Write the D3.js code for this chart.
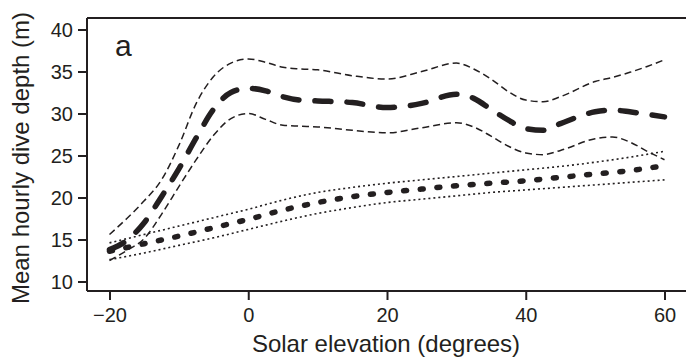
<!DOCTYPE html>
<html>
<head>
<meta charset="utf-8">
<script src="https://cdn.jsdelivr.net/npm/d3@7"></script>
<style>
html,body{margin:0;padding:0;background:#fff;}
svg{display:block;}
text{font-family:"Liberation Sans",Arial,Helvetica,sans-serif;fill:#231f20;}
</style>
</head>
<body>
<svg id="chart" width="686" height="359"></svg>
<script>
// ---- data ----
const elevA = [-20,-17.5,-15,-12.5,-10,-7.5,-5,-2.5,0,2.5,5,7.5,10,15,20,25,30,32.5,35,37.5,40,42.5,45,50,52.5,55,57.5,60];
const meanA = [13.8,14.9,17.0,20.1,23.4,27.1,30.5,32.5,33.0,32.7,32.0,31.6,31.5,31.3,30.7,31.2,32.3,31.8,30.5,29.2,28.2,28.0,28.8,30.2,30.4,30.2,29.9,29.6];
const upperA = [15.6,17.5,19.6,22.1,26.2,31.2,34.4,36.0,36.5,36.1,35.5,35.3,35.2,34.5,34.1,35.0,36.0,35.3,34.1,32.6,31.6,31.4,32.0,33.8,34.3,34.9,35.6,36.4];
const lowerA = [12.5,13.7,15.1,18.0,21.3,24.5,27.4,29.4,30.0,29.3,28.6,28.5,28.4,28.0,27.7,28.3,28.9,28.4,27.3,26.1,25.3,25.1,25.6,27.0,27.2,26.6,25.5,24.5];

const elevB = [-20,-15,-10,-5,0,5,10,15,20,25,30,35,40,45,50,55,60];
const meanB = [13.6,14.5,15.4,16.4,17.4,18.5,19.4,20.1,20.6,21.0,21.4,21.7,22.0,22.4,22.8,23.2,23.8];
const upperB = [14.6,15.6,16.6,17.6,18.6,19.7,20.6,21.2,21.7,22.1,22.5,22.9,23.3,23.7,24.2,24.8,25.5];
const lowerB = [12.6,13.4,14.3,15.2,16.2,17.2,18.1,18.8,19.4,19.8,20.2,20.6,20.9,21.2,21.5,21.8,22.1];

const xTicks = [-20,0,20,40,60];
const yTicks = [10,15,20,25,30,35,40];
const xTitle = "Solar elevation (degrees)";
const yTitle = "Mean hourly dive depth (m)";
const panelLabel = "a";

// ---- layout ----
const svg = d3.select("#chart");
const ink = "#231f20";
const fLeft = 87, fTop = 18, fBottom = 291, fRight = 690;

const x = d3.scaleLinear().domain([-20, 60]).range([109.5, 664.5]);
const y = d3.scaleLinear().domain([10, 40]).range([281.5, 29.5]);

// frame
svg.append("line").attr("x1", fLeft).attr("x2", fRight).attr("y1", fTop).attr("y2", fTop)
  .attr("stroke", ink).attr("stroke-width", 2);

// axes
const xAxis = d3.axisBottom(x).tickValues(xTicks).tickSize(9).tickPadding(8)
  .tickFormat(d => d < 0 ? "\u2212" + Math.abs(d) : d);
const gx = svg.append("g").attr("transform", `translate(0,${fBottom})`).call(xAxis);
gx.select(".domain").attr("d", `M${fLeft},0H${fRight}`).attr("stroke", ink).attr("stroke-width", 2);
gx.selectAll(".tick line").attr("stroke", ink).attr("stroke-width", 2);
gx.selectAll(".tick text").attr("font-size", 20).attr("fill", ink)
  .attr("font-family", "Liberation Sans, Arial, sans-serif").attr("dy", null).attr("y", 31);

const yAxis = d3.axisLeft(y).tickValues(yTicks).tickSize(9).tickPadding(5);
const gy = svg.append("g").attr("transform", `translate(${fLeft},0)`).call(yAxis);
gy.select(".domain").attr("d", `M0,${fTop}V${fBottom}`).attr("stroke", ink).attr("stroke-width", 2);
gy.selectAll(".tick line").attr("stroke", ink).attr("stroke-width", 2);
gy.selectAll(".tick text").attr("font-size", 20).attr("fill", ink)
  .attr("font-family", "Liberation Sans, Arial, sans-serif").attr("dy", "0.35em").attr("x", -14);

// titles
svg.append("text").attr("x", 386).attr("y", 352).attr("text-anchor", "middle")
  .attr("font-size", 24).text(xTitle);
svg.append("text").attr("transform", "translate(29,158) rotate(-90)").attr("text-anchor", "middle")
  .attr("font-size", 24).text(yTitle);
svg.append("text").attr("x", 115).attr("y", 56).attr("font-size", 30).text(panelLabel);

// lines
const mk = (xs, ys) => xs.map((e, i) => [e, ys[i]]);
const line = d3.line().x(d => x(d[0])).y(d => y(d[1])).curve(d3.curveMonotoneX);

function draw(data, w, dash, cap) {
  svg.append("path").attr("d", line(data)).attr("fill", "none")
    .attr("stroke", ink).attr("stroke-width", w)
    .attr("stroke-dasharray", dash).attr("stroke-linecap", cap);
}
// dotted series (B)
draw(mk(elevB, upperB), 1.6, "2,3", "butt");
draw(mk(elevB, lowerB), 1.6, "2,3", "butt");
draw(mk(elevB, meanB), 5.5, "3,13.7", "round");
// dashed series (A)
draw(mk(elevA, upperA), 1.5, "7,4", "butt");
draw(mk(elevA, lowerA), 1.5, "7,4", "butt");
draw(mk(elevA, meanA), 5.5, "16,16", "round");
</script>
</body>
</html>
